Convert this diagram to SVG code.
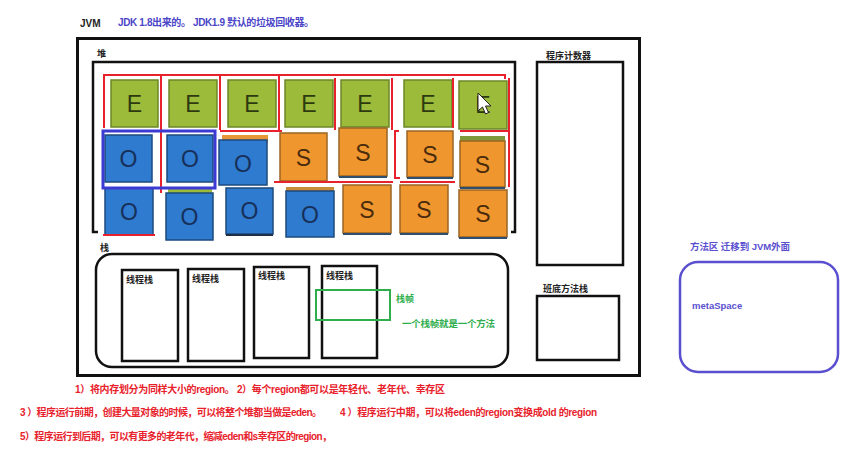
<svg xmlns="http://www.w3.org/2000/svg" width="865" height="454" viewBox="0 0 865 454">
<style>
.t{font-family:"Liberation Sans","Noto Sans CJK SC",sans-serif}
.lbl{font-family:"Liberation Sans","Noto Sans CJK SC",sans-serif;font-size:9px;font-weight:bold;fill:#222}
.red{font-family:"Liberation Sans","Noto Sans CJK SC",sans-serif;font-size:10px;font-weight:bold;fill:#e8222c}
.blk{fill:none;stroke:#111;stroke-width:2.5}
.E{fill:#9dbb3a;stroke:#6c8627;stroke-width:1.5}
.O{fill:#2e7bcf;stroke:#1d4a7c;stroke-width:1.5}
.S{fill:#f0962f;stroke:#9b6424;stroke-width:1.5}
.sh{stroke:#2e4f6e;stroke-width:2}
.L{font-family:"Liberation Sans",Arial,sans-serif;font-size:23px;text-anchor:middle}
.LE{fill:#2d3a10}.LO{fill:#17305a}.LS{fill:#4a2c0c}
.rl{stroke:#e8222c;stroke-width:2;fill:none}
</style>
<rect width="865" height="454" fill="#fff"/>
<g id="header">
<text class="t" x="80" y="27" font-size="10" font-weight="bold" fill="#222">JVM</text>
<text class="t" x="118" y="26" font-size="10" font-weight="bold" fill="#4b45c8" textLength="196">JDK 1.8出来的。 JDK1.9 默认的垃圾回收器。</text>
</g>
<g id="jvm">
<rect x="77.5" y="38.5" width="562" height="337" fill="none" stroke="#111" stroke-width="3"/>
</g>
<g id="heap">
<text class="lbl" x="97" y="57">堆</text>
<path class="blk" d="M98 232 H93 V62 H515 V232 H511"/>
<!-- row 1 -->
<g id="E1"><rect class="E" x="111" y="80" width="47" height="47"/><text class="L LE" x="134.5" y="112">E</text></g>
<g id="E2"><rect class="E" x="169" y="80" width="48" height="47"/><text class="L LE" x="193" y="112">E</text></g>
<g id="E3"><rect class="E" x="228" y="80" width="48" height="47"/><text class="L LE" x="252" y="112">E</text></g>
<g id="E4"><rect class="E" x="285" y="80" width="48" height="47"/><text class="L LE" x="309" y="112">E</text></g>
<g id="E5"><rect class="E" x="341" y="80" width="48" height="47"/><text class="L LE" x="365" y="112">E</text></g>
<g id="E6"><rect class="E" x="404" y="80" width="48" height="47"/><text class="L LE" x="428" y="112">E</text></g>
<g id="E7"><rect class="E" x="459" y="81" width="48" height="48"/><text class="L LE" x="483" y="113">E</text>
<path d="M478 93 V111 L482.5 107 L485.5 114 L488.5 112.5 L485.5 106 L491 106 Z" fill="#fff" stroke="#222" stroke-width="1"/></g>
<!-- row 2 -->
<g id="O1"><rect class="O" x="105" y="135" width="47" height="47"/><text class="L LO" x="128.5" y="167">O</text></g>
<g id="O2"><rect class="O" x="167" y="135" width="46" height="47"/><text class="L LO" x="190" y="167">O</text></g>
<g id="O3"><rect x="222" y="135" width="46" height="8" fill="#e8963a"/><rect class="O" x="219" y="140" width="48" height="45"/><text class="L LO" x="243" y="172">O</text></g>
<g id="S1"><rect class="S" x="280" y="133" width="47" height="48"/><line class="sh" x1="280" y1="182" x2="327" y2="182"/><text class="L LS" x="303.5" y="166">S</text></g>
<g id="S2"><rect class="S" x="339" y="128" width="48" height="48"/><line class="sh" x1="339" y1="177" x2="387" y2="177"/><text class="L LS" x="363" y="161">S</text></g>
<g id="S3"><rect class="S" x="407" y="131" width="46" height="46"/><line class="sh" x1="407" y1="178" x2="453" y2="178"/><text class="L LS" x="430" y="163">S</text></g>
<g id="S4"><rect x="460" y="136" width="45" height="5" fill="#7f9a3a"/><rect class="S" x="460" y="141" width="45" height="46"/><line class="sh" x1="460" y1="188" x2="505" y2="188"/><text class="L LS" x="482.5" y="173">S</text></g>
<!-- row 3 -->
<g id="O4"><rect class="O" x="105" y="188" width="48" height="47"/><text class="L LO" x="129" y="220">O</text></g>
<g id="O5"><rect x="168" y="188" width="44" height="5" fill="#9dbb3a"/><rect class="O" x="166" y="193" width="47" height="47"/><text class="L LO" x="189.5" y="225">O</text></g>
<g id="O6"><rect class="O" x="226" y="188" width="47" height="46"/><line x1="226" y1="235" x2="273" y2="235" stroke="#1f2f45" stroke-width="2"/><text class="L LO" x="249.5" y="219">O</text></g>
<g id="O7"><rect x="286" y="187" width="48" height="5" fill="#c98a3a"/><rect class="O" x="286" y="191" width="48" height="46"/><text class="L LO" x="310" y="223">O</text></g>
<g id="S5"><rect class="S" x="343" y="185" width="48" height="48"/><line class="sh" x1="343" y1="234" x2="391" y2="234"/><text class="L LS" x="367" y="218">S</text></g>
<g id="S6"><rect class="S" x="400" y="185" width="48" height="48"/><line class="sh" x1="400" y1="234" x2="448" y2="234"/><text class="L LS" x="424" y="218">S</text></g>
<g id="S7"><rect class="S" x="459" y="190" width="48" height="47"/><line class="sh" x1="459" y1="238" x2="507" y2="238"/><text class="L LS" x="483" y="222">S</text></g>
<!-- hand-drawn marks -->
<g id="marks">
<path class="rl" d="M104 128 V75 H505 V79"/>
<path class="rl" d="M161 75 V193"/>
<path class="rl" d="M220 75 V130"/>
<path class="rl" d="M279 75 V130"/>
<path class="rl" d="M335 78 V130"/>
<path class="rl" d="M392 78 V130"/>
<path class="rl" d="M453 78 V128"/>
<path class="rl" d="M509 78 V187"/>
<path class="rl" d="M220 131 H282"/>
<path class="rl" d="M460 131 H508"/>
<path class="rl" d="M399 131 H395 V178 H400"/>
<path class="rl" d="M333 182 H393"/>
<path class="rl" d="M400 182 H455"/>
<path class="rl" d="M274 182 H333"/>
<path class="rl" d="M103 235 H155"/>
<rect x="103" y="131" width="112" height="57" fill="none" stroke="#3b3ad2" stroke-width="3"/>
</g>
</g>
<g id="pc">
<text class="lbl" x="546" y="59">程序计数器</text>
<rect class="blk" x="537" y="62" width="86" height="203"/>
</g>
<g id="native">
<text class="lbl" x="543" y="292">班底方法栈</text>
<rect class="blk" x="537" y="296" width="82" height="64"/>
</g>
<g id="stack">
<text class="lbl" x="100" y="251">栈</text>
<rect class="blk" x="96" y="254" width="412" height="113" rx="16"/>
<g id="ts1"><rect class="blk" x="122" y="270" width="56" height="91"/><text class="lbl" x="126" y="283">线程栈</text></g>
<g id="ts2"><rect class="blk" x="188" y="269" width="56" height="92"/><text class="lbl" x="192" y="282">线程栈</text></g>
<g id="ts3"><rect class="blk" x="254" y="267" width="55" height="91"/><text class="lbl" x="258" y="279">线程栈</text></g>
<g id="ts4"><rect class="blk" x="322" y="266" width="55" height="92"/><text class="lbl" x="326" y="279">线程栈</text></g>
<g id="frame">
<rect x="316" y="290" width="74" height="30" fill="none" stroke="#2fae4e" stroke-width="2"/>
<text class="t" x="396" y="302" font-size="9" font-weight="bold" fill="#2fae4e">栈帧</text>
<text class="t" x="402" y="327" font-size="9.5" font-weight="bold" fill="#2fae4e" textLength="93">一个栈帧就是一个方法</text>
</g>
</g>
<g id="metaspace">
<text class="t" x="690" y="250" font-size="9.5" font-weight="bold" fill="#5a4fcf" textLength="100">方法区 迁移到 JVM外面</text>
<rect x="680" y="262" width="158" height="110" rx="18" fill="none" stroke="#5a4fcf" stroke-width="2.5"/>
<text class="t" x="692" y="309" font-size="9.5" font-weight="bold" fill="#5a4fcf">metaSpace</text>
</g>
<g id="notes">
<text class="red" x="75" y="393" textLength="370">1）将内存划分为同样大小的region。  2）每个region都可以是年轻代、老年代、幸存区</text>
<text class="red" x="20" y="416" textLength="302">3 ）程序运行前期，创建大量对象的时候，可以将整个堆都当做是eden。</text>
<text class="red" x="340" y="416" textLength="257">4 ）程序运行中期，可以将eden的region变换成old 的region</text>
<text class="red" x="20" y="440" textLength="312">5）程序运行到后期，可以有更多的老年代，缩减eden和s幸存区的region，</text>
</g>
</svg>
